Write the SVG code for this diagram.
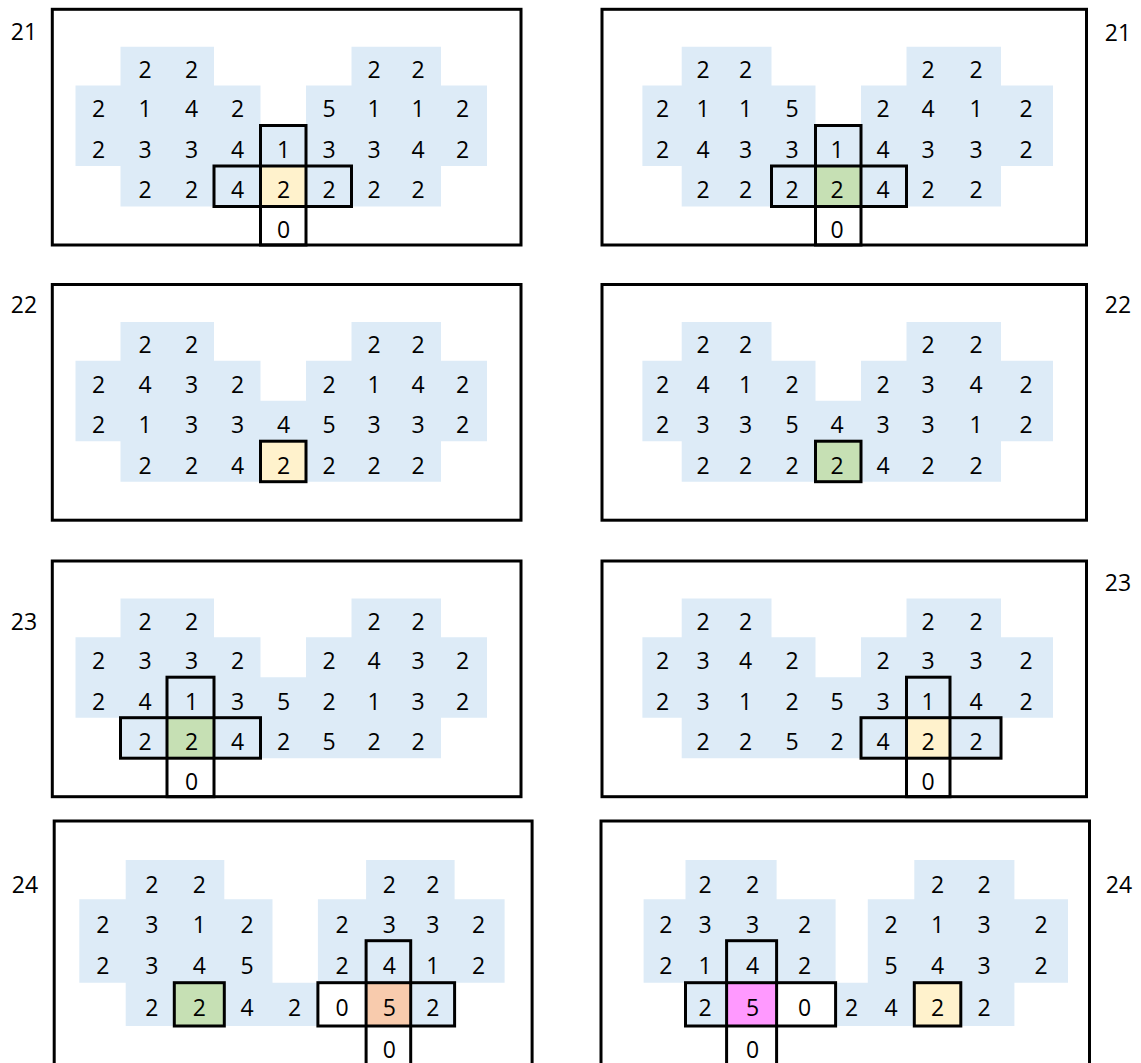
<svg xmlns="http://www.w3.org/2000/svg" xmlns:xlink="http://www.w3.org/1999/xlink" width="1141" height="1063" viewBox="0 0 1141 1063">
<style>
.fr{fill:none;stroke:#000;stroke-width:3}
.bg{fill:#DDEBF7}
.y{fill:#FFF2CC}.g{fill:#C6E0B4}.o{fill:#F8CBAD}.m{fill:#FF99FF}.w{fill:#FFFFFF}
.bd{fill:none;stroke:#000;stroke-width:3}
text{font-family:"Open Sans","Liberation Sans",sans-serif;font-size:23px;fill:#000;text-anchor:middle}
</style>
<defs>
<path id="blueL" class="bg" d="M120.5,37.4 H214 V76.2 H260.5 V116.2 H306 V76.2 H351.5 V37.4 H441 V76.2 H487 V156.7 H441 V197.2 H120.5 V156.7 H75.5 V76.2 H120.5 Z"/>
<path id="blueR" class="bg" d="M681.7,37.4 H771.5 V76.2 H815.5 V116.2 H861 V76.2 H906.5 V37.4 H1001 V76.2 H1053 V156.7 H1001 V197.2 H681.7 V156.7 H642.4 V76.2 H681.7 Z"/>
</defs>
<rect width="1141" height="1063" fill="#fff"/>
<g id="connectors"/>
<g id="labels">
<text x="24" y="40">21</text>
<text x="1118" y="40.5">21</text>
<text x="24" y="313">22</text>
<text x="1118" y="313">22</text>
<text x="24" y="630">23</text>
<text x="1118" y="591">23</text>
<text x="25" y="893">24</text>
<text x="1119" y="893">24</text>
</g>

<g id="panel-21-left" transform="translate(0,9.3)">
<use xlink:href="#blueL"/>
<rect class="y" x="260.5" y="156.7" width="45.5" height="40.5"/>
<g transform="translate(0,1.5)">
<text x="145" y="67.3">2</text><text x="191.5" y="67.3">2</text><text x="374" y="67.3">2</text><text x="418" y="67.3">2</text>
<text x="98.5" y="106.7">2</text><text x="145" y="106.7">1</text><text x="191.5" y="106.7">4</text><text x="237.5" y="106.7">2</text><text x="329" y="106.7">5</text><text x="374" y="106.7">1</text><text x="418" y="106.7">1</text><text x="462.5" y="106.7">2</text>
<text x="98.5" y="147">2</text><text x="145" y="147">3</text><text x="191.5" y="147">3</text><text x="237.5" y="147">4</text><text x="283.5" y="147">1</text><text x="329" y="147">3</text><text x="374" y="147">3</text><text x="418" y="147">4</text><text x="462.5" y="147">2</text>
<text x="145" y="187.5">2</text><text x="191.5" y="187.5">2</text><text x="237.5" y="187.5">4</text><text x="283.5" y="187.5">2</text><text x="329" y="187.5">2</text><text x="374" y="187.5">2</text><text x="418" y="187.5">2</text>
<text x="283.5" y="227">0</text>
</g>
<rect class="bd" x="260.5" y="116.2" width="45.5" height="119.5"/>
<rect class="bd" x="214" y="156.7" width="137.5" height="40.5"/>
<rect class="fr" x="52.3" y="0" width="468.7" height="235.7"/>
</g>

<g id="panel-21-right" transform="translate(0,9.3)">
<use xlink:href="#blueR"/>
<rect class="g" x="815.5" y="156.7" width="45.5" height="40.5"/>
<g transform="translate(0,1.5)">
<text x="703" y="67.3">2</text><text x="745.5" y="67.3">2</text><text x="928" y="67.3">2</text><text x="976" y="67.3">2</text>
<text x="662.7" y="106.7">2</text><text x="703" y="106.7">1</text><text x="745.5" y="106.7">1</text><text x="792" y="106.7">5</text><text x="883" y="106.7">2</text><text x="928" y="106.7">4</text><text x="976" y="106.7">1</text><text x="1026" y="106.7">2</text>
<text x="662.7" y="147">2</text><text x="703" y="147">4</text><text x="745.5" y="147">3</text><text x="792" y="147">3</text><text x="837" y="147">1</text><text x="883" y="147">4</text><text x="928" y="147">3</text><text x="976" y="147">3</text><text x="1026" y="147">2</text>
<text x="703" y="187.5">2</text><text x="745.5" y="187.5">2</text><text x="792" y="187.5">2</text><text x="837" y="187.5">2</text><text x="883" y="187.5">4</text><text x="928" y="187.5">2</text><text x="976" y="187.5">2</text>
<text x="837" y="227">0</text>
</g>
<rect class="bd" x="815.5" y="116.2" width="45.5" height="119.5"/>
<rect class="bd" x="771.5" y="156.7" width="135" height="40.5"/>
<rect class="fr" x="602" y="0" width="484.5" height="235.7"/>
</g>

<g id="panel-22-left" transform="translate(0,284.5)">
<use xlink:href="#blueL"/>
<rect class="y" x="260.5" y="156.7" width="45.5" height="40.5"/>
<g transform="translate(0,1.5)">
<text x="145" y="67.3">2</text><text x="191.5" y="67.3">2</text><text x="374" y="67.3">2</text><text x="418" y="67.3">2</text>
<text x="98.5" y="106.7">2</text><text x="145" y="106.7">4</text><text x="191.5" y="106.7">3</text><text x="237.5" y="106.7">2</text><text x="329" y="106.7">2</text><text x="374" y="106.7">1</text><text x="418" y="106.7">4</text><text x="462.5" y="106.7">2</text>
<text x="98.5" y="147">2</text><text x="145" y="147">1</text><text x="191.5" y="147">3</text><text x="237.5" y="147">3</text><text x="283.5" y="147">4</text><text x="329" y="147">5</text><text x="374" y="147">3</text><text x="418" y="147">3</text><text x="462.5" y="147">2</text>
<text x="145" y="187.5">2</text><text x="191.5" y="187.5">2</text><text x="237.5" y="187.5">4</text><text x="283.5" y="187.5">2</text><text x="329" y="187.5">2</text><text x="374" y="187.5">2</text><text x="418" y="187.5">2</text>
</g>
<rect class="bd" x="260.5" y="156.7" width="45.5" height="40.5"/>
<rect class="fr" x="52.3" y="0" width="468.7" height="235.7"/>
</g>

<g id="panel-22-right" transform="translate(0,284.5)">
<use xlink:href="#blueR"/>
<rect class="g" x="815.5" y="156.7" width="45.5" height="40.5"/>
<g transform="translate(0,1.5)">
<text x="703" y="67.3">2</text><text x="745.5" y="67.3">2</text><text x="928" y="67.3">2</text><text x="976" y="67.3">2</text>
<text x="662.7" y="106.7">2</text><text x="703" y="106.7">4</text><text x="745.5" y="106.7">1</text><text x="792" y="106.7">2</text><text x="883" y="106.7">2</text><text x="928" y="106.7">3</text><text x="976" y="106.7">4</text><text x="1026" y="106.7">2</text>
<text x="662.7" y="147">2</text><text x="703" y="147">3</text><text x="745.5" y="147">3</text><text x="792" y="147">5</text><text x="837" y="147">4</text><text x="883" y="147">3</text><text x="928" y="147">3</text><text x="976" y="147">1</text><text x="1026" y="147">2</text>
<text x="703" y="187.5">2</text><text x="745.5" y="187.5">2</text><text x="792" y="187.5">2</text><text x="837" y="187.5">2</text><text x="883" y="187.5">4</text><text x="928" y="187.5">2</text><text x="976" y="187.5">2</text>
</g>
<rect class="bd" x="815.5" y="156.7" width="45.5" height="40.5"/>
<rect class="fr" x="602" y="0" width="484.5" height="235.7"/>
</g>

<g id="panel-23-left" transform="translate(0,561)">
<use xlink:href="#blueL"/>
<rect class="g" x="167" y="156.7" width="47" height="40.5"/>
<g transform="translate(0,1.5)">
<text x="145" y="67.3">2</text><text x="191.5" y="67.3">2</text><text x="374" y="67.3">2</text><text x="418" y="67.3">2</text>
<text x="98.5" y="106.7">2</text><text x="145" y="106.7">3</text><text x="191.5" y="106.7">3</text><text x="237.5" y="106.7">2</text><text x="329" y="106.7">2</text><text x="374" y="106.7">4</text><text x="418" y="106.7">3</text><text x="462.5" y="106.7">2</text>
<text x="98.5" y="147">2</text><text x="145" y="147">4</text><text x="191.5" y="147">1</text><text x="237.5" y="147">3</text><text x="283.5" y="147">5</text><text x="329" y="147">2</text><text x="374" y="147">1</text><text x="418" y="147">3</text><text x="462.5" y="147">2</text>
<text x="145" y="187.5">2</text><text x="191.5" y="187.5">2</text><text x="237.5" y="187.5">4</text><text x="283.5" y="187.5">2</text><text x="329" y="187.5">5</text><text x="374" y="187.5">2</text><text x="418" y="187.5">2</text>
<text x="191.5" y="227">0</text>
</g>
<rect class="bd" x="167" y="116.2" width="47" height="119.5"/>
<rect class="bd" x="120.5" y="156.7" width="140" height="40.5"/>
<rect class="fr" x="52.3" y="0" width="468.7" height="235.7"/>
</g>

<g id="panel-23-right" transform="translate(0,561)">
<use xlink:href="#blueR"/>
<rect class="y" x="906.5" y="156.7" width="43.5" height="40.5"/>
<g transform="translate(0,1.5)">
<text x="703" y="67.3">2</text><text x="745.5" y="67.3">2</text><text x="928" y="67.3">2</text><text x="976" y="67.3">2</text>
<text x="662.7" y="106.7">2</text><text x="703" y="106.7">3</text><text x="745.5" y="106.7">4</text><text x="792" y="106.7">2</text><text x="883" y="106.7">2</text><text x="928" y="106.7">3</text><text x="976" y="106.7">3</text><text x="1026" y="106.7">2</text>
<text x="662.7" y="147">2</text><text x="703" y="147">3</text><text x="745.5" y="147">1</text><text x="792" y="147">2</text><text x="837" y="147">5</text><text x="883" y="147">3</text><text x="928" y="147">1</text><text x="976" y="147">4</text><text x="1026" y="147">2</text>
<text x="703" y="187.5">2</text><text x="745.5" y="187.5">2</text><text x="792" y="187.5">5</text><text x="837" y="187.5">2</text><text x="883" y="187.5">4</text><text x="928" y="187.5">2</text><text x="976" y="187.5">2</text>
<text x="928" y="227">0</text>
</g>
<rect class="bd" x="906.5" y="116.2" width="43.5" height="119.5"/>
<rect class="bd" x="861" y="156.7" width="140" height="40.5"/>
<rect class="fr" x="602" y="0" width="484.5" height="235.7"/>
</g>

<g id="panel-24-left">
<path class="bg" d="M125.7,860 H224.3 V899.3 H272.5 V982.7 H317.9 V899.3 H366.1 V860 H454.6 V899.3 H504.6 V982.7 H454.6 V1026 H125.7 V982.7 H79.3 V899.3 H125.7 Z"/>
<rect class="g" x="174.3" y="982.7" width="50" height="43.3"/>
<rect class="w" x="317.9" y="982.7" width="48.2" height="43.3"/>
<rect class="o" x="366.1" y="982.7" width="44.6" height="43.3"/>
<g transform="translate(0,1.5)">
<text x="151.8" y="891.5">2</text><text x="199.3" y="891.5">2</text><text x="389.3" y="891.5">2</text><text x="432.9" y="891.5">2</text>
<text x="102.9" y="931.5">2</text><text x="151.8" y="931.5">3</text><text x="199.3" y="931.5">1</text><text x="247.1" y="931.5">2</text><text x="342.1" y="931.5">2</text><text x="389.3" y="931.5">3</text><text x="432.9" y="931.5">3</text><text x="478.6" y="931.5">2</text>
<text x="102.9" y="972.5">2</text><text x="151.8" y="972.5">3</text><text x="199.3" y="972.5">4</text><text x="247.1" y="972.5">5</text><text x="342.1" y="972.5">2</text><text x="389.3" y="972.5">4</text><text x="432.9" y="972.5">1</text><text x="478.6" y="972.5">2</text>
<text x="151.8" y="1014">2</text><text x="199.3" y="1014">2</text><text x="247.1" y="1014">4</text><text x="294.6" y="1014">2</text><text x="342.1" y="1014">0</text><text x="389.3" y="1014">5</text><text x="432.9" y="1014">2</text>
<text x="389.3" y="1056">0</text>
</g>
<rect class="bd" x="174.3" y="982.7" width="50" height="43.3"/>
<rect class="bd" x="366.1" y="940.7" width="44.6" height="140"/>
<rect class="bd" x="317.9" y="982.7" width="136.7" height="43.3"/>
<rect class="fr" x="54.2" y="821" width="477.9" height="260"/>
</g>

<g id="panel-24-right">
<path class="bg" d="M685.5,860 H776.6 V899.3 H835.6 V982.7 H867.8 V899.3 H914.3 V860 H1014.4 V899.3 H1068 V982.7 H1014.4 V1026 H685.5 V982.7 H643.6 V899.3 H685.5 Z"/>
<rect class="m" x="726.6" y="982.7" width="50" height="43.3"/>
<rect class="w" x="776.6" y="982.7" width="59" height="43.3"/>
<rect class="y" x="914.3" y="982.7" width="46.5" height="43.3"/>
<g transform="translate(0,1.5)">
<text x="705.1" y="891.5">2</text><text x="752.5" y="891.5">2</text><text x="937.5" y="891.5">2</text><text x="984" y="891.5">2</text>
<text x="665.8" y="931.5">2</text><text x="705.1" y="931.5">3</text><text x="752.5" y="931.5">3</text><text x="804.5" y="931.5">2</text><text x="891" y="931.5">2</text><text x="937.5" y="931.5">1</text><text x="984" y="931.5">3</text><text x="1041.2" y="931.5">2</text>
<text x="665.8" y="972.5">2</text><text x="705.1" y="972.5">1</text><text x="752.5" y="972.5">4</text><text x="804.5" y="972.5">2</text><text x="891" y="972.5">5</text><text x="937.5" y="972.5">4</text><text x="984" y="972.5">3</text><text x="1041.2" y="972.5">2</text>
<text x="705.1" y="1014">2</text><text x="752.5" y="1014">5</text><text x="804.5" y="1014">0</text><text x="851.7" y="1014">2</text><text x="891" y="1014">4</text><text x="937.5" y="1014">2</text><text x="984" y="1014">2</text>
<text x="752.5" y="1056">0</text>
</g>
<rect class="bd" x="726.6" y="940.7" width="50" height="140"/>
<rect class="bd" x="685.5" y="982.7" width="150.1" height="43.3"/>
<rect class="bd" x="914.3" y="982.7" width="46.5" height="43.3"/>
<rect class="fr" x="601" y="821" width="488.5" height="260"/>
</g>
</svg>
